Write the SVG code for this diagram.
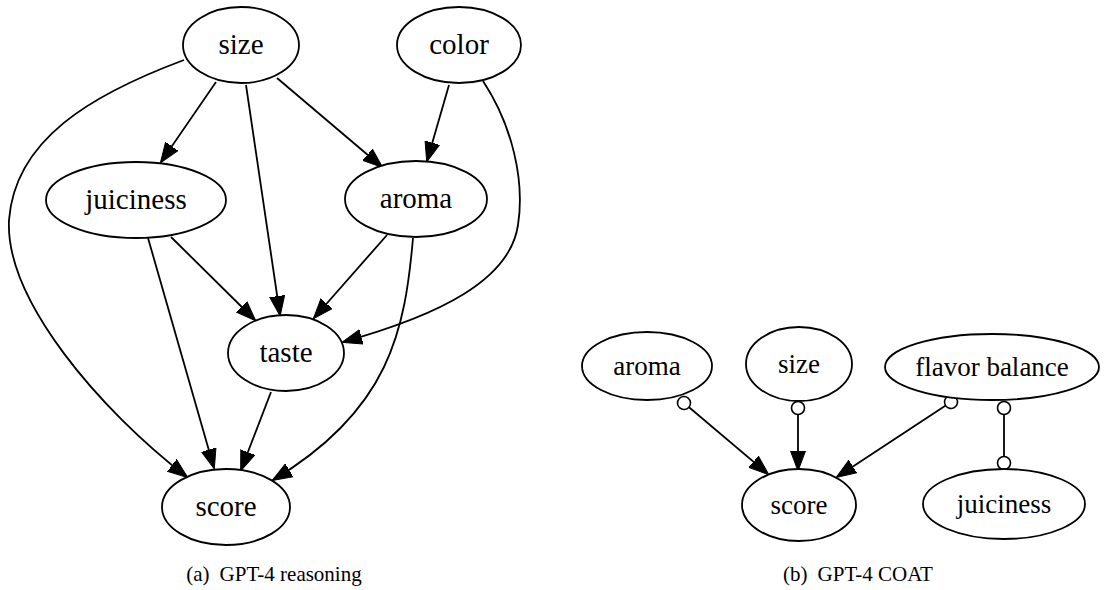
<svg xmlns="http://www.w3.org/2000/svg" width="1120" height="590" viewBox="0 0 1120 590">
<style>
.n ellipse{fill:#fff;stroke:#000;stroke-width:1.8}
text{font-family:"Liberation Serif","Times New Roman",Tinos,"DejaVu Serif",serif;fill:#000}
.n text{text-anchor:middle}
.l text{font-size:29px}
.r text{font-size:27px}
.e path{fill:none;stroke:#000;stroke-width:1.8}
.cap{font-size:21px;text-anchor:middle}
</style>
<defs>
<marker id="arr" markerUnits="userSpaceOnUse" viewBox="0 0 20 16" markerWidth="20" markerHeight="16" refX="19" refY="8" orient="auto">
<path d="M0,0.5 L20,8 L0,15.5 Z" fill="#000" stroke="#000" stroke-width="1"/>
</marker>
<marker id="odot" markerUnits="userSpaceOnUse" viewBox="-8 -8 16 16" markerWidth="16" markerHeight="16" refX="0" refY="0" orient="auto">
<circle cx="0" cy="0" r="6.5" fill="#fff" stroke="#000" stroke-width="1.6"/>
</marker>
</defs>

<g id="edges-a" class="e">
<path d="M216,82 L161,162" marker-end="url(#arr)"/>
<path d="M246,85 L280,315" marker-end="url(#arr)"/>
<path d="M277,78 L382,167" marker-end="url(#arr)"/>
<path d="M449,85 L427,161" marker-end="url(#arr)"/>
<path d="M483,81 C512,125 525,180 518,225 C510,280 440,315 343,342" marker-end="url(#arr)"/>
<path d="M171,237 L255,320" marker-end="url(#arr)"/>
<path d="M148,238 L214,468" marker-end="url(#arr)"/>
<path d="M387,235 L314,318" marker-end="url(#arr)"/>
<path d="M413,238 C405,330 390,410 273,480" marker-end="url(#arr)"/>
<path d="M184,60 C90,95 15,140 9,220 C5,300 100,410 187,477" marker-end="url(#arr)"/>
<path d="M271,392 L241,470" marker-end="url(#arr)"/>
</g>

<g id="edges-b" class="e">
<path d="M684,403 L768,474" marker-start="url(#odot)" marker-end="url(#arr)"/>
<path d="M798,408 L798,470" marker-start="url(#odot)" marker-end="url(#arr)"/>
<path d="M951,402 L837,477" marker-start="url(#odot)" marker-end="url(#arr)"/>
<path d="M1004,408 L1004,463" marker-start="url(#odot)" marker-end="url(#odot)"/>
</g>

<g class="n l">
<g id="a-size"><ellipse cx="241" cy="45" rx="58" ry="38"/><text x="241" y="54" font-family="Liberation Serif, serif">size</text></g>
<g id="a-color"><ellipse cx="459" cy="45" rx="62" ry="38"/><text x="459" y="54">color</text></g>
<g id="a-juiciness"><ellipse cx="136" cy="200" rx="90" ry="38"/><text x="136" y="209">juiciness</text></g>
<g id="a-aroma"><ellipse cx="416" cy="199" rx="71" ry="38"/><text x="416" y="208">aroma</text></g>
<g id="a-taste"><ellipse cx="286" cy="353" rx="58" ry="38"/><text x="286" y="362">taste</text></g>
<g id="a-score"><ellipse cx="226" cy="507" rx="64" ry="38"/><text x="226" y="516">score</text></g>
</g>

<g class="n r">
<g id="b-aroma"><ellipse cx="647" cy="366" rx="65" ry="34"/><text x="647" y="375">aroma</text></g>
<g id="b-size"><ellipse cx="799" cy="364" rx="53" ry="37"/><text x="799" y="373">size</text></g>
<g id="b-flavor"><ellipse cx="992" cy="367" rx="107" ry="33"/><text x="992" y="376">flavor balance</text></g>
<g id="b-score"><ellipse cx="799" cy="505" rx="57" ry="36"/><text x="799" y="514">score</text></g>
<g id="b-juiciness"><ellipse cx="1004" cy="504" rx="81" ry="35"/><text x="1004" y="513">juiciness</text></g>
</g>

<text class="cap" x="274" y="581">(a)<tspan dx="10">GPT-4 reasoning</tspan></text>
<text class="cap" x="858" y="581">(b)<tspan dx="10">GPT-4 COAT</tspan></text>
</svg>
